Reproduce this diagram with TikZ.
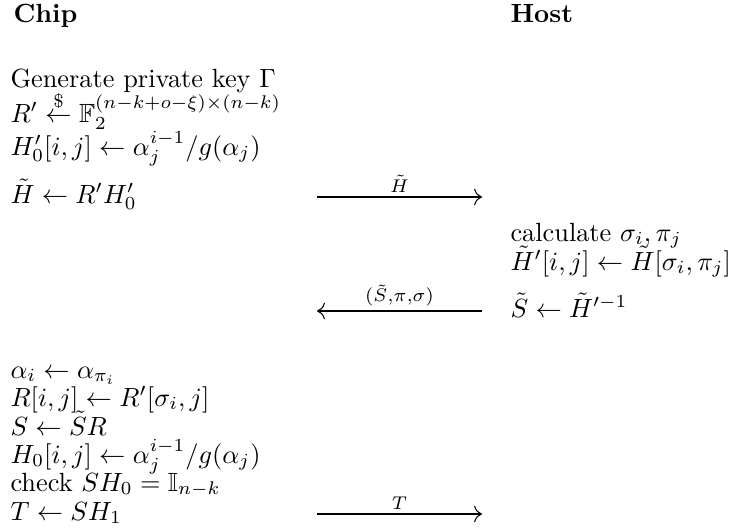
\documentclass[tikz,border=0pt]{standalone}
\usepackage{amsmath,amssymb}
\usetikzlibrary{arrows.meta}
% one unit = one pixel of the 732x531 picture
\tikzset{
  party/.style={anchor=base west, inner sep=0pt, font=\bfseries},
  stmt/.style={anchor=base west, inner sep=0pt},
  msg/.style={-{To[length=3pt]}, line width=0.4pt},
  msglab/.style={above=1.5pt, inner sep=0pt}
}

\begin{document}
\begin{tikzpicture}[x=0.38pt, y=-0.38pt]
  \useasboundingbox (0,0) rectangle (732,531);
  % parties
  \node[party] (chip) at (13,22) {Chip};
  \node[party] (host) at (510,22) {Host};
  % chip, first part
  \node[stmt] (gen) at (10,87) {Generate private key $\Gamma$};
  \node[stmt] (rnd) at (10,122) {$R' \stackrel{\$}{\leftarrow} \mathbb{F}_2^{(n-k+o-\xi)\times(n-k)}$};
  \node[stmt] (hzp) at (10,155) {$H'_0[i,j] \leftarrow \alpha_j^{i-1}/g(\alpha_j)$};
  \node[stmt] (ht) at (10,203) {$\tilde{H} \leftarrow R'H'_0$};
  % host
  \node[stmt] (calc) at (510,241) {calculate $\sigma_i, \pi_j$};
  \node[stmt] (htp) at (510,270) {$\tilde{H}'[i,j] \leftarrow \tilde{H}[\sigma_i, \pi_j]$};
  \node[stmt] (st) at (510,317) {$\tilde{S} \leftarrow \tilde{H}'^{-1}$};
  % chip, second part
  \node[stmt] (alph) at (10,378) {$\alpha_i \leftarrow \alpha_{\pi_i}$};
  \node[stmt] (rr) at (10,406) {$R[i,j] \leftarrow R'[\sigma_i, j]$};
  \node[stmt] (ss) at (10,435) {$S \leftarrow \tilde{S}R$};
  \node[stmt] (hz) at (10,463) {$H_0[i,j] \leftarrow \alpha_j^{i-1}/g(\alpha_j)$};
  \node[stmt] (chk) at (10,491) {check $SH_0 = \mathbb{I}_{n-k}$};
  \node[stmt] (tt) at (10,520) {$T \leftarrow SH_1$};
  % messages
  \coordinate (m1a) at (317,197);
  \coordinate (m1b) at (482,197);
  \coordinate (m2a) at (482,311);
  \coordinate (m2b) at (317,311);
  \coordinate (m3a) at (317,514);
  \coordinate (m3b) at (482,514);
  \draw[msg] (m1a) -- node[msglab] {$\scriptstyle\tilde{H}$} (m1b);
  \draw[msg] (m2a) -- node[msglab] {$\scriptstyle(\tilde{S},\pi,\sigma)$} (m2b);
  \draw[msg] (m3a) -- node[msglab] {$\scriptstyle T$} (m3b);
\end{tikzpicture}
\end{document}
